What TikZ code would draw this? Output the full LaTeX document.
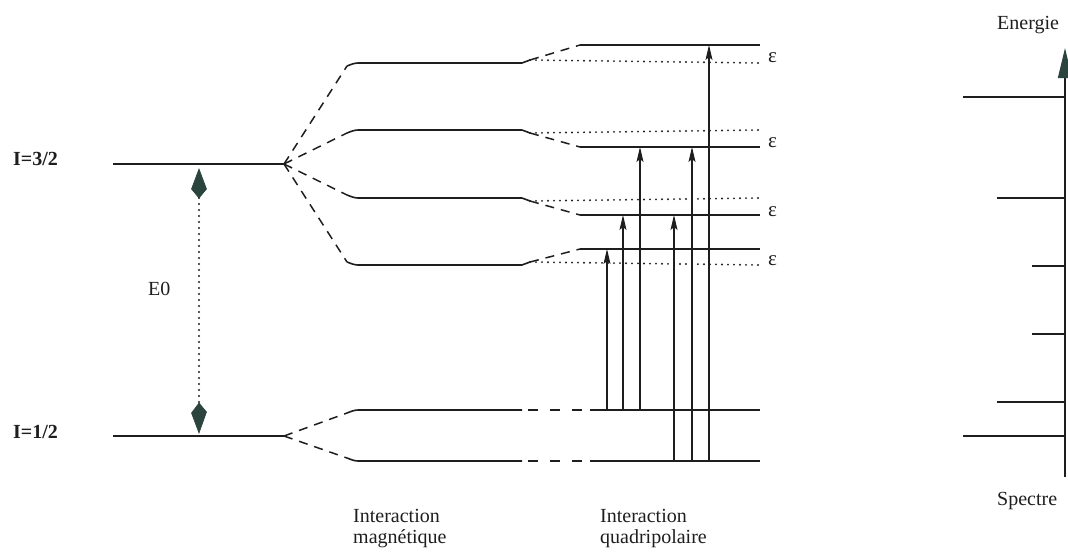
\documentclass[tikz,border=0pt]{standalone}
\usepackage{fontspec}
\setmainfont{Liberation Serif}
\usetikzlibrary{arrows.meta}
\definecolor{ink}{HTML}{1E1E1E}
\definecolor{kite}{HTML}{2B443E}
\begin{document}
\begin{tikzpicture}[x=1pt,y=-1pt,
  lvl/.style={draw=ink, line width=1.6pt, rounded corners=3pt},
  dsh/.style={draw=ink, line width=1.5pt, dash pattern=on 9pt off 7pt},
  hdsh/.style={draw=ink, line width=1.5pt, dash pattern=on 10pt off 12pt, dash phase=16pt},
  dots/.style={draw=ink, line width=2.1pt, line cap=round, dash pattern=on 0pt off 6pt},
  trans/.style={draw=ink, line width=1.2pt, -{Stealth[length=15pt,width=7pt,inset=3pt]}},
  lbl/.style={font=\fontsize{20}{24}\selectfont, text=ink, inner sep=0pt, anchor=base west},
  eps/.style={font=\fontsize{21}{24}\selectfont, text=ink, inner sep=0pt, anchor=west},
  spec/.style={draw=ink, line width=1.6pt},
  kitehead/.style={fill=kite, draw=kite, line width=0.6pt, line join=miter},
]
\useasboundingbox (0,0) rectangle (1068,552);

% ---- labels
\node[lbl] (l3) at (13,165) {\textbf{I=3/2}};
\node[lbl] (l1) at (13,438) {\textbf{I=1/2}};
\node[lbl] (e0) at (148,295) {E0};
\node[lbl] (im1) at (353,522) {Interaction};
\node[lbl] (im2) at (353,543) {magnétique};
\node[lbl] (iq1) at (600,522) {Interaction};
\node[lbl] (iq2) at (600,543) {quadripolaire};
\node[lbl] (en) at (997,29) {Energie};
\node[lbl] (sp) at (997,505) {Spectre};
\node[eps] (ep1) at (768,58) {ε};
\node[eps] (ep2) at (768,143) {ε};
\node[eps] (ep3) at (768,212) {ε};
\node[eps] (ep4) at (768,261) {ε};

% ---- unperturbed levels
\coordinate (u0l) at (113,164); \coordinate (u0r) at (284,164);
\coordinate (g0l) at (113,436); \coordinate (g0r) at (284,436);
\draw[lvl] (u0l) -- (u0r);
\draw[lvl] (g0l) -- (g0r);

% E0 double arrow: dotted shaft with kite-shaped heads
\coordinate (e0t) at (199,169); \coordinate (e0b) at (199,433);
\coordinate (e0ts) at (199,198); \coordinate (e0bs) at (199,403);
\draw[dots] (e0ts) -- (e0bs);
\fill[kitehead] (e0t) -- ++(-7.5,20) -- (e0ts) -- ++(7.5,-9) -- cycle;
\fill[kitehead] (e0b) -- ++(-7.5,-20) -- (e0bs) -- ++(7.5,9) -- cycle;

% ---- magnetic levels (hook start, left end, right end)
\foreach \n/\y/\h in {m1/63/66, m2/130/133, m3/198/195, m4/265/262, m5/410/413, m6/461/458}{
  \coordinate (\n h) at (347,\h);
  \coordinate (\n l) at (355,\y);
  \coordinate (\n r) at (522,\y);
}
\foreach \n in {m1,m2,m3,m4}{
  \draw[dsh] (u0r) -- (\n h);
  \draw[lvl] (\n h) -- (\n l) -- (\n r);
}
\foreach \n in {m5,m6}{
  \draw[dsh] (g0r) -- (\n h);
  \draw[lvl] (\n h) -- (\n l) -- (\n r);
}

% ---- quadrupolar levels
\foreach \n/\y/\hy/\q in {m1/63/60/45, m2/130/133/147, m3/198/201/215, m4/265/262/249}{
  \coordinate (\n k) at (530,\hy);
  \coordinate (\n d) at (760,\y);
  \coordinate (q\n s) at (580,\q);
  \coordinate (q\n l) at (586,\q);
  \coordinate (q\n r) at (760,\q);
  \draw[lvl] (\n r) -- (\n k);
  \draw[dots] (\n k) -- (\n d);
  \draw[dsh] (\n k) -- (q\n s);
  \draw[lvl] (q\n s) -- (q\n l) -- (q\n r);
}
\foreach \n/\y in {m5/410, m6/461}{
  \coordinate (q\n l) at (590,\y);
  \coordinate (q\n r) at (760,\y);
  \draw[hdsh] (\n r) -- (q\n l);
  \draw[lvl] (q\n l) -- (q\n r);
}

% ---- transitions
\foreach \i/\x/\ya/\yb in {1/607/410/249, 2/623/410/215, 3/640/410/147, 4/674/461/215, 5/692/461/147, 6/709/461/45}{
  \coordinate (t\i a) at (\x,\ya);
  \coordinate (t\i b) at (\x,\yb);
  \draw[trans] (t\i a) -- (t\i b);
}

% ---- spectrum
\coordinate (ax0) at (1065,477); \coordinate (ax1) at (1065,48);
\draw[spec, -{Triangle[length=30pt,width=14pt,color=kite]}] (ax0) -- (ax1);
\foreach \i/\x/\y in {1/963/97, 2/997/198, 3/1032/266, 4/1032/334, 5/997/402, 6/963/436}{
  \coordinate (s\i l) at (\x,\y);
  \coordinate (s\i r) at (1065,\y);
  \draw[spec] (s\i l) -- (s\i r);
}
\end{tikzpicture}
\end{document}
